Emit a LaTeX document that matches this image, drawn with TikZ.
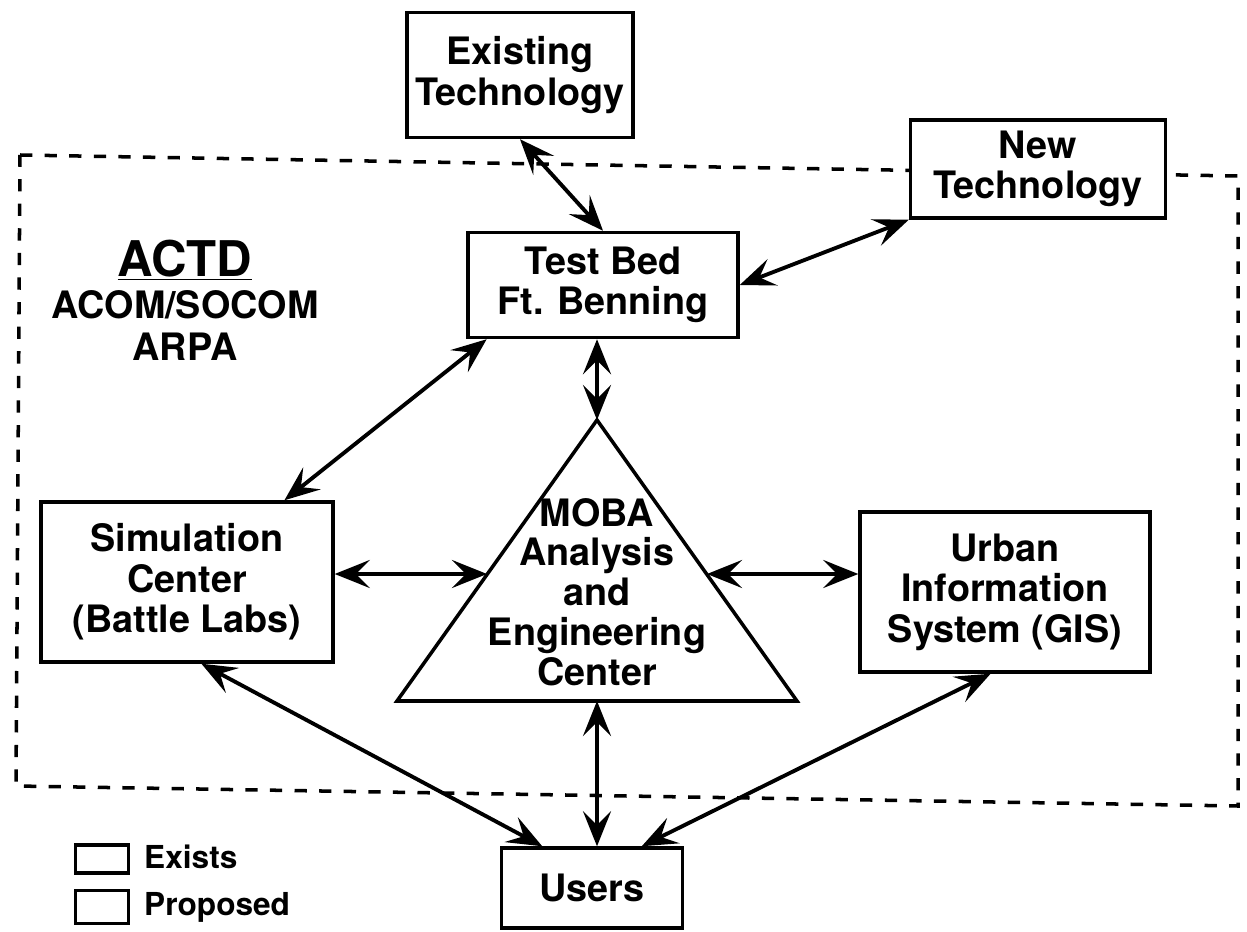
\documentclass[tikz,border=0pt]{standalone}
\usepackage{fontspec}
\setmainfont{TeX Gyre Heros}
\usetikzlibrary{arrows.meta}

\tikzset{
  box/.style={draw, fill=white, line width=2pt, align=center, inner sep=0pt,
    font=\bfseries\fontsize{21.5}{23}\selectfont},
  link/.style={line width=2.2pt,
    {Stealth[length=20pt,width=16pt,inset=8pt]}-{Stealth[length=20pt,width=16pt,inset=8pt]}},
}

\begin{document}
\begin{tikzpicture}[x=0.02cm,y=-0.02cm]
  \useasboundingbox (0,0) rectangle (1247,932);

  % ACTD boundary
  \draw[line width=2pt, dash pattern=on 7pt off 7pt] (20,155) -- (1238,176) -- (1238,806) -- (16,786) -- cycle;

  \node[box, minimum width=4.52cm, minimum height=2.5cm] (extech) at (520,75) {Existing\\Technology};
  \node[box, minimum width=5.1cm, minimum height=1.96cm] (newtech) at (1038,169) {New\\Technology};
  \node[box, minimum width=5.4cm, minimum height=2.1cm] (testbed) at (603,285) {Test Bed\\Ft. Benning};
  \node[box, minimum width=5.84cm, minimum height=3.2cm] (simctr) at (187,582) {Simulation\\Center\\(Battle Labs)};
  \node[box, minimum width=5.8cm, minimum height=3.2cm] (urban) at (1005,592) {Urban\\Information\\System (GIS)};
  \node[box, minimum width=3.62cm, minimum height=1.6cm] (users) at (592,888) {Users};

  \node[align=center, font=\bfseries\fontsize{21.5}{24}\selectfont] (actd) at (185,300)
    {{\fontsize{28}{30}\selectfont\underline{ACTD}}\\ACOM/SOCOM\\ARPA};

  % MOBA triangle
  \coordinate (apex) at (597,420);
  \coordinate (bl) at (397,701);
  \coordinate (br) at (797,701);
  \coordinate (base) at (597,701);
  \coordinate (mleft) at (487,574);
  \coordinate (mright) at (707,574);
  \draw[line width=2pt] (apex) -- (bl) -- (br) -- cycle;
  \node[align=center, font=\bfseries\fontsize{21.5}{22.7}\selectfont] (moba) at (597,592)
    {MOBA\\Analysis\\and\\Engineering\\Center};

  \draw[link] (extech.south) -- (testbed.north);
  \draw[link] (newtech.south west) -- (testbed.east);
  \draw[link] (testbed.-155) -- (simctr.40);
  \draw[link] (apex |- testbed.south) -- (apex);
  \draw[link] (simctr.east |- mleft) -- (mleft);
  \draw[link] (urban.west |- mright) -- (mright);
  \draw[link] (base) -- (base |- users.north);
  \draw[link] (simctr.-80) -- (users.140);
  \draw[link] (urban.-100) -- (users.40);

  % legend
  \node[draw, line width=1.8pt, minimum width=1.06cm, minimum height=0.56cm] (exbox) at (102,859) {};
  \node[draw, line width=1.8pt, minimum width=1.06cm, minimum height=0.66cm] (prbox) at (102,907) {};
  \node[anchor=west, font=\bfseries\fontsize{18}{20}\selectfont] (exlbl) at (138,857) {Exists};
  \node[anchor=west, font=\bfseries\fontsize{18}{20}\selectfont] (prlbl) at (138,907) {Proposed};
\end{tikzpicture}
\end{document}
